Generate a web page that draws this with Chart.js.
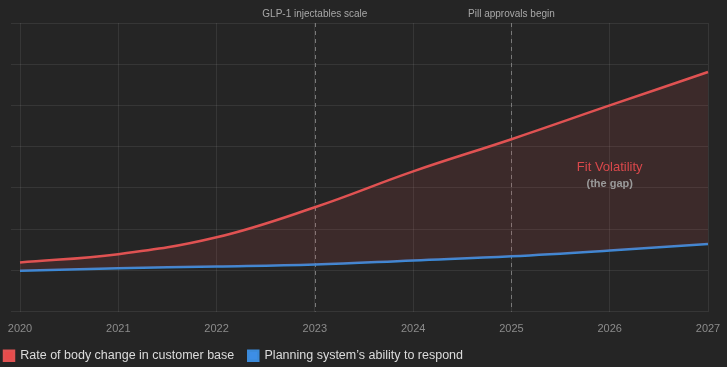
<!DOCTYPE html>
<html>
<head>
<meta charset="utf-8">
<script src="https://cdn.jsdelivr.net/npm/chart.js@4.4.1/dist/chart.umd.min.js"></script>
<style>
  html, body { margin: 0; padding: 0; background: #252525; }
  #wrap { width: 727px; height: 367px; }
</style>
</head>
<body>
<div id="wrap"><canvas id="fitChart"></canvas></div>
<script>
var years = ['2020', '2021', '2022', '2023', '2024', '2025', '2026', '2027'];
var bodyChange = [11.9, 13.9, 18.0, 25.3, 34.0, 41.8, 50.0, 58.1];
var planningResponse = [9.9, 10.5, 10.9, 11.4, 12.4, 13.4, 14.8, 16.4];
var markerYears = ['2023', '2025'];
var markerLabels = ['GLP-1 injectables scale', 'Pill approvals begin'];
var gapYear = '2026';
var gapValue = 35;
var gapTitle = 'Fit Volatility';
var gapSub = '(the gap)';

var fontFamily = '"Liberation Sans", Arial, Helvetica, sans-serif';

var annotations = {
    id: 'annotations',
    beforeDraw: function (chart) {
        var ctx = chart.ctx;
        ctx.save();
        ctx.fillStyle = '#252525';
        ctx.fillRect(0, 0, chart.width, chart.height);
        ctx.restore();
    },
    beforeDatasetsDraw: function (chart) {
        var ctx = chart.ctx, area = chart.chartArea, x = chart.scales.x;
        ctx.save();
        ctx.strokeStyle = '#7a7a7a';
        ctx.lineWidth = 1;
        ctx.setLineDash([4, 4]);
        markerYears.forEach(function (yr, i) {
            var px = Math.round(x.getPixelForValue(years.indexOf(yr))) + 0.5;
            ctx.beginPath();
            ctx.moveTo(px, area.top);
            ctx.lineTo(px, area.bottom);
            ctx.stroke();
        });
        ctx.setLineDash([]);
        ctx.fillStyle = '#a8a8a8';
        ctx.font = '10px ' + fontFamily;
        ctx.textAlign = 'center';
        ctx.textBaseline = 'middle';
        markerYears.forEach(function (yr, i) {
            var px = x.getPixelForValue(years.indexOf(yr));
            ctx.fillText(markerLabels[i], px, area.top - 9);
        });
        ctx.restore();
    },
    afterDatasetsDraw: function (chart) {
        var ctx = chart.ctx, x = chart.scales.x, y = chart.scales.y;
        var px = x.getPixelForValue(years.indexOf(gapYear));
        var py = y.getPixelForValue(gapValue);
        ctx.save();
        ctx.textAlign = 'center';
        ctx.textBaseline = 'middle';
        ctx.fillStyle = '#d9484b';
        ctx.font = '13px ' + fontFamily;
        ctx.fillText(gapTitle, px, py);
        ctx.fillStyle = '#9a9a9a';
        ctx.font = 'bold 11px ' + fontFamily;
        ctx.fillText(gapSub, px, py + 17);
        ctx.restore();
    }
};

var fitctx = document.getElementById('fitChart').getContext('2d');
var fitChart = new Chart(fitctx, {
    type: 'line',
    data: {
        labels: years,
        datasets: [{
            label: 'Rate of body change in customer base',
            data: bodyChange,
            borderColor: '#e05252',
            backgroundColor: '#e84b4b',
            fill: {target: '+1', above: 'rgba(214, 78, 78, 0.13)', below: 'rgba(214, 78, 78, 0.13)'},
            tension: 0.4,
            borderWidth: 2.5
        }, {
            label: 'Planning system\u2019s ability to respond',
            data: planningResponse,
            borderColor: '#3b8ad9',
            backgroundColor: '#3d8ee6',
            fill: false,
            tension: 0.4,
            borderWidth: 2.5
        }]
    },
    options: {
    responsive: true,
    maintainAspectRatio: false,
    animation: false,
    radius: 0,
    layout: {
        padding: {left: -10, right: 19, top: 23, bottom: -5}
    },
    plugins: {
        legend: {
            position: 'bottom',
            align: 'start',
            labels: {
                color: '#dcdcdc',
                boxWidth: 10,
                boxHeight: 10,
                padding: 14,
                font: {family: fontFamily, size: 12.5}
            }
        },
        tooltip: {enabled: false}
    },
    interaction: {
      intersect: false,
    },
    scales: {
      x: {
        offset: false,
        grid: {color: 'rgba(255,255,255,0.08)', drawTicks: false},
        border: {display: false},
        ticks: {color: '#8c8c8c', padding: 11, font: {family: fontFamily, size: 11}, maxRotation: 0},
        afterFit: function (scale) {
            scale.height = 24;
            scale.paddingLeft = 0;
            scale.paddingRight = 0;
        }
      },
      y: {
        min: 0,
        max: 70,
        grid: {color: 'rgba(255,255,255,0.08)', drawTicks: true, tickLength: 9},
        border: {display: false},
        ticks: {display: false, stepSize: 10},
        afterFit: function (scale) { scale.width = 30; }
      }
    }
  },
  plugins: [annotations]
});
</script>
</body>
</html>
